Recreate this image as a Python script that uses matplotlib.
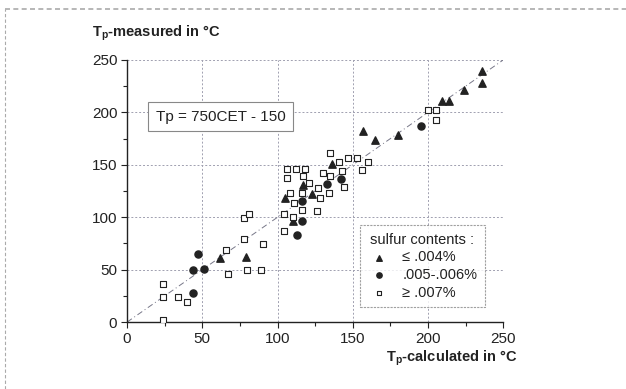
import numpy as np
import matplotlib
matplotlib.use('agg')
import matplotlib.pyplot as plt

plt.rcParams['font.family'] = ['Liberation Sans', 'DejaVu Sans']
plt.rcParams['mathtext.fontset'] = 'custom'
plt.rcParams['mathtext.rm'] = 'Liberation Sans'
plt.rcParams['mathtext.bf'] = 'Liberation Sans:bold'

# sulfur <= .004%  (triangles)
tri_x = [62, 79, 105, 110, 117, 123, 136, 157, 165, 180, 209, 214, 224, 236, 236]
tri_y = [61, 62, 118, 96, 131, 122, 151, 182, 174, 178, 211, 211, 221, 239, 228]

# sulfur .005-.006%  (filled circles)
cir_x = [47, 44, 51, 44, 113, 116, 116, 133, 142, 195]
cir_y = [65, 50, 51, 28, 83, 96, 115, 132, 136, 187]

# sulfur >= .007%  (open squares)
sq_x = [24, 24, 24, 34, 40, 66, 67, 78, 81, 78, 80, 89, 90,
        104, 104, 111, 110, 108, 106, 106, 112, 118, 117, 116, 116,
        121, 127, 128, 126, 130, 135, 134, 143, 144, 135, 141, 147,
        153, 160, 156, 200, 205, 205]
sq_y = [36, 24, 2, 24, 19, 69, 46, 99, 103, 79, 50, 50, 74,
        87, 103, 114, 100, 123, 137, 146, 146, 146, 139, 123, 107,
        133, 128, 118, 106, 142, 139, 123, 144, 129, 161, 153, 156,
        156, 153, 145, 202, 202, 193]

fig = plt.figure(figsize=(6.26, 3.89), dpi=100)
ax = fig.add_axes([0.203, 0.172, 0.601, 0.674])

col = '#222222'
ax.plot([0, 250], [0, 250], color='#777788', lw=0.7, ls=(0, (6, 3, 1, 3)), zorder=1)
ax.scatter(tri_x, tri_y, marker='^', s=28, color=col, zorder=3,
           label='\u2264 .004%')
ax.scatter(cir_x, cir_y, marker='o', s=26, color=col, zorder=3,
           label='.005-.006%')
ax.scatter(sq_x, sq_y, marker='s', s=22, facecolor='white', edgecolor=col,
           linewidths=0.8, zorder=3, label='\u2265 .007%')

ax.set_xlim(0, 250)
ax.set_ylim(0, 250)
ax.set_xticks([0, 50, 100, 150, 200, 250])
ax.set_yticks([0, 50, 100, 150, 200, 250])
ax.set_xticks(np.arange(25, 250, 50), minor=True)
ax.set_yticks(np.arange(25, 250, 50), minor=True)
ax.tick_params(which='major', length=4, width=0.8, labelsize=11, color=col, labelcolor=col, pad=3)
ax.tick_params(which='minor', length=3, width=0.8, color=col)
for s in ['top', 'right']:
    ax.spines[s].set_visible(False)
for s in ['left', 'bottom']:
    ax.spines[s].set_color(col)
    ax.spines[s].set_linewidth(1.0)
ax.grid(True, which='major', color='#a0a0b0', lw=0.7, ls=(0, (2, 2)))
ax.set_axisbelow(True)

fig.text(0.147, 0.915, r'T$_\mathbf{p}$-measured in °C', fontsize=10.5,
         fontweight='bold', color=col, va='center', ha='left')
fig.text(0.826, 0.08, r'T$_\mathbf{p}$-calculated in °C', fontsize=10.5,
         fontweight='bold', color=col, va='center', ha='right')

ax.text(62, 196, 'Tp = 750CET - 150', fontsize=11, color=col, ha='center', va='center',
        bbox=dict(boxstyle='square,pad=0.5', fc='white', ec='#888888', lw=0.8))

leg = ax.legend(title='sulfur contents :', loc='lower right', bbox_to_anchor=(0.97, 0.03),
                fontsize=10.5, title_fontsize=10.5, frameon=True, fancybox=False,
                handletextpad=0.8, borderpad=0.5, labelspacing=0.25, handlelength=1.6,
                markerscale=0.75)
leg.get_frame().set_edgecolor('#888888')
leg.get_frame().set_linestyle((0, (2, 1)))
leg.get_frame().set_linewidth(0.8)
leg.get_title().set_color(col)
for t in leg.get_texts():
    t.set_color(col)

# dashed border of the figure (left and top)
fig.add_artist(plt.Line2D([0.008, 0.008], [0, 0.977], color='#aaaaaa', lw=0.8,
                          ls=(0, (3, 2)), transform=fig.transFigure))
fig.add_artist(plt.Line2D([0.008, 1.0], [0.977, 0.977], color='#aaaaaa', lw=1.2,
                          ls=(0, (3, 2)), transform=fig.transFigure))

fig.savefig('out.png', dpi=100)
